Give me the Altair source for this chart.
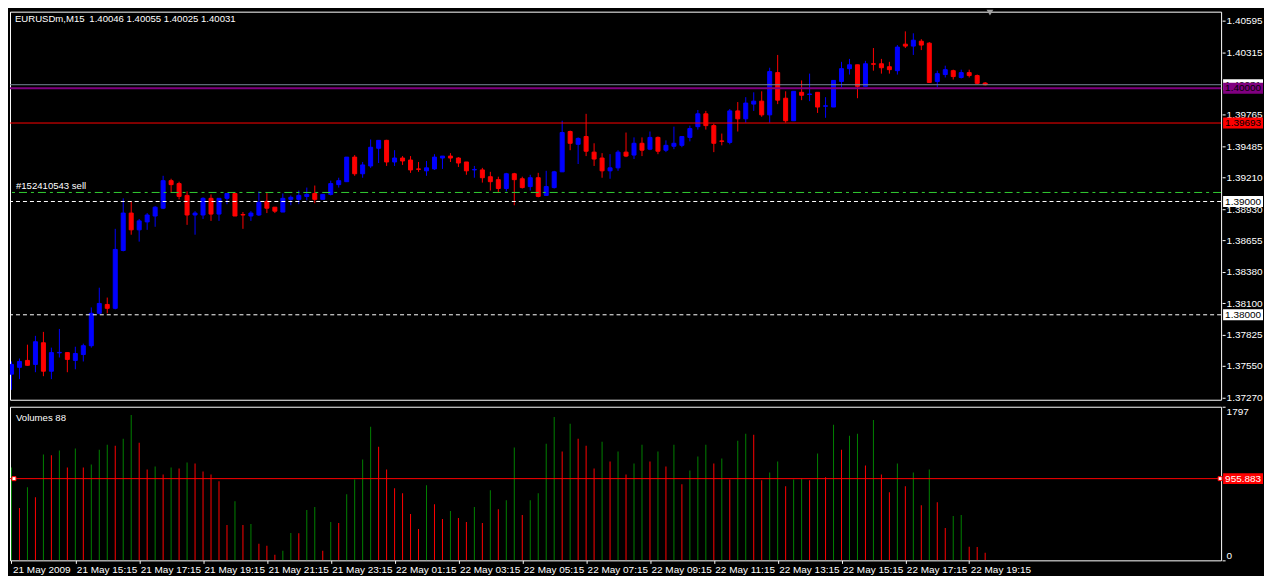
import json
import altair as alt
import pandas as pd

# ---------------- data ----------------
SYMBOL = "EURUSDm,M15"

opens = [
    1.37476, 1.37536, 1.37597, 1.37562, 1.37753, 1.37502, 1.37664, 1.37666, 1.37597, 1.37649,
    1.37727, 1.38013, 1.38091, 1.38057, 1.38568, 1.38898, 1.38750, 1.38820, 1.38872, 1.38941,
    1.39184, 1.39158, 1.39054, 1.38881, 1.38881, 1.39028, 1.38889, 1.39028, 1.39071, 1.38885,
    1.38872, 1.38881, 1.39002, 1.38950, 1.38907, 1.39019, 1.39019, 1.39045, 1.39071, 1.39019,
    1.39063, 1.39149, 1.39175, 1.39392, 1.39245, 1.39314, 1.39470, 1.39540, 1.39349, 1.39384,
    1.39366, 1.39288, 1.39271, 1.39288, 1.39384, 1.39401, 1.39384, 1.39349, 1.39279, 1.39279,
    1.39219, 1.39193, 1.39115, 1.39245, 1.39201, 1.39132, 1.39210, 1.39054, 1.39123, 1.39262,
    1.39618, 1.39505, 1.39574, 1.39436, 1.39384, 1.39271, 1.39297, 1.39436, 1.39410, 1.39514,
    1.39462, 1.39566, 1.39453, 1.39488, 1.39496, 1.39566, 1.39661, 1.39774, 1.39670, 1.39535,
    1.39522, 1.39800, 1.39730, 1.39860, 1.39886, 1.39765, 1.40138, 1.39912, 1.39713, 1.39964,
    1.39945, 1.39964, 1.39841, 1.39834, 1.40060, 1.40173, 1.40207, 1.40017, 1.40216, 1.40216,
    1.40190, 1.40155, 1.40389, 1.40372, 1.40415, 1.40398, 1.40060, 1.40121, 1.40155, 1.40095,
    1.40138, 1.40112, 1.40046,
]
highs = [
    1.37588, 1.37614, 1.37736, 1.37814, 1.37849, 1.37710, 1.37875, 1.37668, 1.37718, 1.37745,
    1.38065, 1.38239, 1.38152, 1.38759, 1.39028, 1.39002, 1.38846, 1.38898, 1.38959, 1.39227,
    1.39201, 1.39175, 1.39089, 1.38915, 1.39037, 1.39063, 1.39028, 1.39071, 1.39075, 1.38907,
    1.38915, 1.39089, 1.39080, 1.38950, 1.39071, 1.39054, 1.39097, 1.39123, 1.39141, 1.39063,
    1.39184, 1.39210, 1.39392, 1.39410, 1.39349, 1.39548, 1.39540, 1.39545, 1.39453, 1.39401,
    1.39401, 1.39349, 1.39358, 1.39418, 1.39401, 1.39427, 1.39392, 1.39349, 1.39314, 1.39297,
    1.39262, 1.39219, 1.39253, 1.39253, 1.39219, 1.39236, 1.39253, 1.39271, 1.39271, 1.39713,
    1.39626, 1.39566, 1.39774, 1.39514, 1.39427, 1.39418, 1.39453, 1.39609, 1.39566, 1.39566,
    1.39618, 1.39574, 1.39540, 1.39661, 1.39574, 1.39670, 1.39808, 1.39800, 1.39687, 1.39600,
    1.39817, 1.39878, 1.39921, 1.39964, 1.39973, 1.40181, 1.40294, 1.39973, 1.39973, 1.40069,
    1.40129, 1.39964, 1.39921, 1.40069, 1.40233, 1.40259, 1.40207, 1.40242, 1.40355, 1.40259,
    1.40233, 1.40381, 1.40502, 1.40485, 1.40433, 1.40407, 1.40155, 1.40199, 1.40164, 1.40164,
    1.40164, 1.40121, 1.40055,
]
lows = [
    1.37337, 1.37432, 1.37550, 1.37493, 1.37458, 1.37432, 1.37623, 1.37493, 1.37519, 1.37588,
    1.37710, 1.38005, 1.38013, 1.38048, 1.38560, 1.38707, 1.38646, 1.38750, 1.38777, 1.38933,
    1.39080, 1.39019, 1.38794, 1.38707, 1.38846, 1.38829, 1.38829, 1.38976, 1.38872, 1.38759,
    1.38829, 1.38872, 1.38898, 1.38898, 1.38907, 1.38967, 1.38976, 1.39011, 1.38985, 1.39019,
    1.39054, 1.39123, 1.39175, 1.39227, 1.39210, 1.39297, 1.39340, 1.39314, 1.39314, 1.39323,
    1.39253, 1.39262, 1.39227, 1.39279, 1.39288, 1.39349, 1.39305, 1.39236, 1.39210, 1.39167,
    1.39097, 1.39080, 1.39089, 1.38967, 1.39115, 1.39097, 1.39037, 1.39054, 1.39115, 1.39262,
    1.39453, 1.39331, 1.39401, 1.39314, 1.39210, 1.39201, 1.39271, 1.39392, 1.39375, 1.39401,
    1.39453, 1.39418, 1.39436, 1.39462, 1.39479, 1.39531, 1.39635, 1.39635, 1.39436, 1.39496,
    1.39505, 1.39618, 1.39696, 1.39800, 1.39748, 1.39696, 1.39860, 1.39696, 1.39713, 1.39895,
    1.39886, 1.39782, 1.39739, 1.39834, 1.40008, 1.40121, 1.39912, 1.40017, 1.40155, 1.40129,
    1.40129, 1.40121, 1.40355, 1.40294, 1.40337, 1.40051, 1.40008, 1.40095, 1.40077, 1.40086,
    1.40095, 1.40034, 1.40025,
]
closes = [
    1.37562, 1.37588, 1.37554, 1.37762, 1.37502, 1.37666, 1.37668, 1.37606, 1.37658, 1.37727,
    1.38013, 1.38100, 1.38057, 1.38577, 1.38898, 1.38750, 1.38829, 1.38881, 1.38950, 1.39184,
    1.39149, 1.39045, 1.38881, 1.38898, 1.39028, 1.38889, 1.39028, 1.39071, 1.38872, 1.38881,
    1.38898, 1.38993, 1.38941, 1.38915, 1.39028, 1.39037, 1.39054, 1.39063, 1.39019, 1.39063,
    1.39158, 1.39184, 1.39392, 1.39245, 1.39323, 1.39479, 1.39540, 1.39349, 1.39384, 1.39358,
    1.39279, 1.39284, 1.39297, 1.39392, 1.39401, 1.39384, 1.39340, 1.39271, 1.39283, 1.39210,
    1.39175, 1.39115, 1.39245, 1.39193, 1.39123, 1.39210, 1.39045, 1.39132, 1.39262, 1.39609,
    1.39514, 1.39557, 1.39444, 1.39375, 1.39271, 1.39297, 1.39436, 1.39401, 1.39514, 1.39453,
    1.39566, 1.39444, 1.39496, 1.39514, 1.39574, 1.39644, 1.39774, 1.39670, 1.39514, 1.39531,
    1.39800, 1.39730, 1.39869, 1.39886, 1.39765, 1.40147, 1.39895, 1.39713, 1.39973, 1.39938,
    1.39949, 1.39834, 1.39845, 1.40069, 1.40173, 1.40207, 1.40017, 1.40216, 1.40212, 1.40181,
    1.40164, 1.40363, 1.40372, 1.40424, 1.40381, 1.40051, 1.40129, 1.40164, 1.40103, 1.40138,
    1.40112, 1.40043, 1.40031,
]
volumes = [
    1087, 611, 855, 739, 1237, 1230, 1284, 1087, 1307, 1087,
    1121, 1295, 1353, 1342, 1423, 1701, 1377, 1063, 1098, 1005,
    1087, 1075, 1145, 1133, 1040, 1005, 924, 414, 692, 414,
    425, 193, 170, 66, 112, 321, 318, 588, 623, 112,
    449, 437, 773, 947, 1179, 1562, 1330, 1063, 843, 785,
    541, 367, 878, 657, 483, 576, 495, 449, 623, 437,
    820, 599, 704, 1319, 530, 704, 785, 1365, 1678, 1272,
    1597, 1423, 1342, 1075, 1388, 1156, 1272, 1005, 1133, 1353,
    1156, 1272, 1098, 1353, 889, 1052, 1214, 1353, 1133, 1191,
    947, 1400, 1481, 1469, 936, 1029, 1156, 866, 947, 955,
    936, 1249, 971, 1585, 1295, 1458, 1481, 1110, 1643, 1005,
    797, 1133, 866, 1029, 646, 1063, 681, 379, 518, 530,
    159, 155, 88,
]
time_labels = [
    "21 May 2009", "21 May 15:15", "21 May 17:15", "21 May 19:15", "21 May 21:15",
    "21 May 23:15", "22 May 01:15", "22 May 03:15", "22 May 05:15", "22 May 07:15",
    "22 May 09:15", "22 May 11:15", "22 May 13:15", "22 May 15:15", "22 May 17:15",
    "22 May 19:15",
]
BARS_PER_LABEL = 8
price_ticks = [1.40595, 1.40315, 1.39765, 1.39485, 1.39210, 1.38930,
               1.38655, 1.38380, 1.38100, 1.37825, 1.37550, 1.37270]
PRICE_DOMAIN = [1.37250, 1.40676]
VOLUME_MAX = 1797
volume_ticks = [1797, 0]
BID = 1.40031
LEVEL_A = 1.40000
LEVEL_B = 1.39693
LEVEL_C = 1.39000
LEVEL_D = 1.38000
SELL_PRICE = 1.39080
SELL_TEXT = "#152410543 sell"
VOLUME_LEVEL = 955.883
SHIFT_POS = 122.6

# ---------------- layout / style ----------------
W, H1, H2 = 1214, 389, 154
PX_PER_BAR = 8
X0 = -0.1875
X_DOMAIN = [X0, X0 + W / PX_PER_BAR]
FONT = "Liberation Sans"
WHITE = "#ffffff"

n = len(opens)
df = pd.DataFrame({"i": list(range(n)), "open": opens, "high": highs,
                   "low": lows, "close": closes, "volume": volumes})
df["dir"] = ["bull" if c >= o else "bear" for o, c in zip(opens, closes)]
df["vdir"] = ["up" if k == 0 or volumes[k] > volumes[k - 1] else "down" for k in range(n)]

x_scale = alt.Scale(domain=X_DOMAIN, nice=False, zero=False, padding=0)
y_price = alt.Scale(domain=PRICE_DOMAIN, nice=False, zero=False, padding=0)
y_vol = alt.Scale(domain=[0, VOLUME_MAX], nice=False, zero=True, padding=0)
candle_colors = alt.Scale(domain=["bull", "bear"], range=["#0000ff", "#ff0000"])
vol_colors = alt.Scale(domain=["up", "down"], range=["#008000", "#ff0000"])

price_axis = alt.Axis(orient="right", values=price_ticks, format=".5f", title=None,
                      domain=False, grid=False, ticks=True, tickSize=3, tickColor=WHITE,
                      labelColor=WHITE, labelFont=FONT, labelFontSize=10, labelPadding=1,
                      offset=1, labelOverlap=False, labelFlush=False)

base = alt.Chart(df)
wicks = base.mark_rule(strokeWidth=1, clip=True).encode(
    x=alt.X("i:Q", scale=x_scale, axis=None),
    y=alt.Y("low:Q", scale=y_price, axis=price_axis),
    y2="high:Q",
    color=alt.Color("dir:N", scale=candle_colors, legend=None),
)
bodies = base.mark_bar(size=4, strokeWidth=1, clip=True).encode(
    x=alt.X("i:Q", scale=x_scale, axis=None),
    y=alt.Y("open:Q", scale=y_price, axis=price_axis),
    y2="close:Q",
    color=alt.Color("dir:N", scale=candle_colors, legend=None),
    stroke=alt.Stroke("dir:N", scale=candle_colors, legend=None),
)


def hline(price, color, width, dash=None):
    kw = dict(color=color, strokeWidth=width)
    if dash:
        kw["strokeDash"] = dash
    return alt.Chart(pd.DataFrame({"p": [price]})).mark_rule(**kw).encode(
        y=alt.Y("p:Q", scale=y_price, axis=price_axis))


lines = [
    hline(LEVEL_D, WHITE, 1, [4, 3]),
    hline(LEVEL_C, WHITE, 1, [4, 3]),
    hline(SELL_PRICE, "#32cd32", 1, [8, 4, 3, 4]),
    hline(LEVEL_B, "#ff0000", 1),
    hline(BID, "#778899", 1),
    hline(LEVEL_A, "#800080", 2),
]

title_text = f"{SYMBOL}\u2002{opens[-1]:.5f} {highs[-1]:.5f} {lows[-1]:.5f} {closes[-1]:.5f}"
title_mark = alt.Chart(pd.DataFrame({"t": [title_text]})).mark_text(
    align="left", baseline="middle", color=WHITE, font=FONT, fontSize=9.6
).encode(x=alt.value(5), y=alt.value(7), text="t:N")

sell_mark = alt.Chart(pd.DataFrame({"p": [SELL_PRICE], "t": [SELL_TEXT]})).mark_text(
    align="left", baseline="alphabetic", dy=-3, color=WHITE, font=FONT, fontSize=9.6
).encode(x=alt.value(6), y=alt.Y("p:Q", scale=y_price, axis=price_axis), text="t:N")

shift_mark = alt.Chart(pd.DataFrame({"s": [SHIFT_POS]})).mark_point(
    shape="triangle-down", filled=True, color="#a0a0a0", size=45, opacity=1
).encode(x=alt.X("s:Q", scale=x_scale, axis=None), y=alt.value(1))

BOX_W, BOX_H = 40, 11
box_path = "M-1,-{h}L1,-{h}L1,{h}L-1,{h}Z".format(h=round(BOX_H / BOX_W, 4))


def price_box(value, fill, text_color, scale, fmt, axis):
    d = pd.DataFrame({"p": [value], "t": [format(value, fmt)]})
    box = alt.Chart(d).mark_point(shape=box_path, size=BOX_W ** 2, filled=True,
                                  color=fill, opacity=1, strokeWidth=0).encode(
        x=alt.value(W + 2 + BOX_W / 2), y=alt.Y("p:Q", scale=scale, axis=axis))
    txt = alt.Chart(d).mark_text(align="left", baseline="middle", color=text_color,
                                 font=FONT, fontSize=10).encode(
        x=alt.value(W + 4), y=alt.Y("p:Q", scale=scale, axis=axis), text="t:N")
    return [box, txt]


boxes = []
boxes += price_box(BID, "#ffffff", "#000000", y_price, ".5f", price_axis)
boxes += price_box(LEVEL_A, "#800080", "#000000", y_price, ".5f", price_axis)
boxes += price_box(LEVEL_B, "#ff0000", "#000000", y_price, ".5f", price_axis)
boxes += price_box(LEVEL_C, "#ffffff", "#000000", y_price, ".5f", price_axis)
boxes += price_box(LEVEL_D, "#ffffff", "#000000", y_price, ".5f", price_axis)

main = alt.layer(wicks, bodies, *lines, title_mark, sell_mark, shift_mark, *boxes).properties(
    width=W, height=H1)

# ---------------- volume panel ----------------
label_expr = json.dumps(time_labels) + "[round(datum.value / %d)]" % BARS_PER_LABEL
time_axis = alt.Axis(values=list(range(0, BARS_PER_LABEL * len(time_labels), BARS_PER_LABEL)),
                     labelExpr=label_expr, title=None, domain=False, grid=False,
                     tickSize=3, tickColor=WHITE, labelColor=WHITE, labelFont=FONT,
                     labelFontSize=10, labelAlign="left", labelBaseline="top",
                     labelPadding=1, labelOffset=1, labelFlush=False, labelOverlap=False)
vol_axis = alt.Axis(orient="right", values=volume_ticks, format="d", title=None,
                    domain=False, grid=False, tickSize=3, tickColor=WHITE,
                    labelColor=WHITE, labelFont=FONT, labelFontSize=10, labelPadding=1,
                    offset=1, labelFlush=True, labelOverlap=False)

vbars = base.mark_bar(size=1, clip=True).encode(
    x=alt.X("i:Q", scale=x_scale, axis=time_axis),
    y=alt.Y("volume:Q", scale=y_vol, axis=vol_axis),
    color=alt.Color("vdir:N", scale=vol_colors, legend=None),
)
vlevel_df = pd.DataFrame({"v": [VOLUME_LEVEL]})
vlevel = alt.Chart(vlevel_df).mark_rule(color="#ff0000", strokeWidth=1).encode(
    y=alt.Y("v:Q", scale=y_vol, axis=vol_axis))
handle_l = alt.Chart(vlevel_df).mark_square(size=16, filled=True, color=WHITE, stroke="#ff0000",
                                            strokeWidth=1, opacity=1).encode(
    x=alt.value(4), y=alt.Y("v:Q", scale=y_vol, axis=vol_axis))
handle_r = alt.Chart(vlevel_df).mark_square(size=16, filled=True, color=WHITE, stroke="#ff0000",
                                            strokeWidth=1, opacity=1).encode(
    x=alt.value(W - 1), y=alt.Y("v:Q", scale=y_vol, axis=vol_axis))
vbox = price_box(VOLUME_LEVEL, "#ff0000", WHITE, y_vol, ".3f", vol_axis)
vol_title = alt.Chart(pd.DataFrame({"t": [f"Volumes {volumes[-1]}"]})).mark_text(
    align="left", baseline="middle", color=WHITE, font=FONT, fontSize=9.6
).encode(x=alt.value(6), y=alt.value(11), text="t:N")

vol = alt.layer(vbars, vlevel, handle_l, handle_r, *vbox, vol_title).properties(
    width=W, height=H2)

chart = alt.vconcat(main, vol, spacing=2).resolve_scale(
    x="independent", y="independent", color="independent", stroke="independent"
).properties(
    background="#000000",
    padding={"left": 0, "top": 0, "right": 0, "bottom": 0},
).configure_view(stroke=WHITE, strokeWidth=1).configure_axis(labelOverlap=False)

chart.save("out.html", embed_options={"renderer": "svg", "actions": False})
